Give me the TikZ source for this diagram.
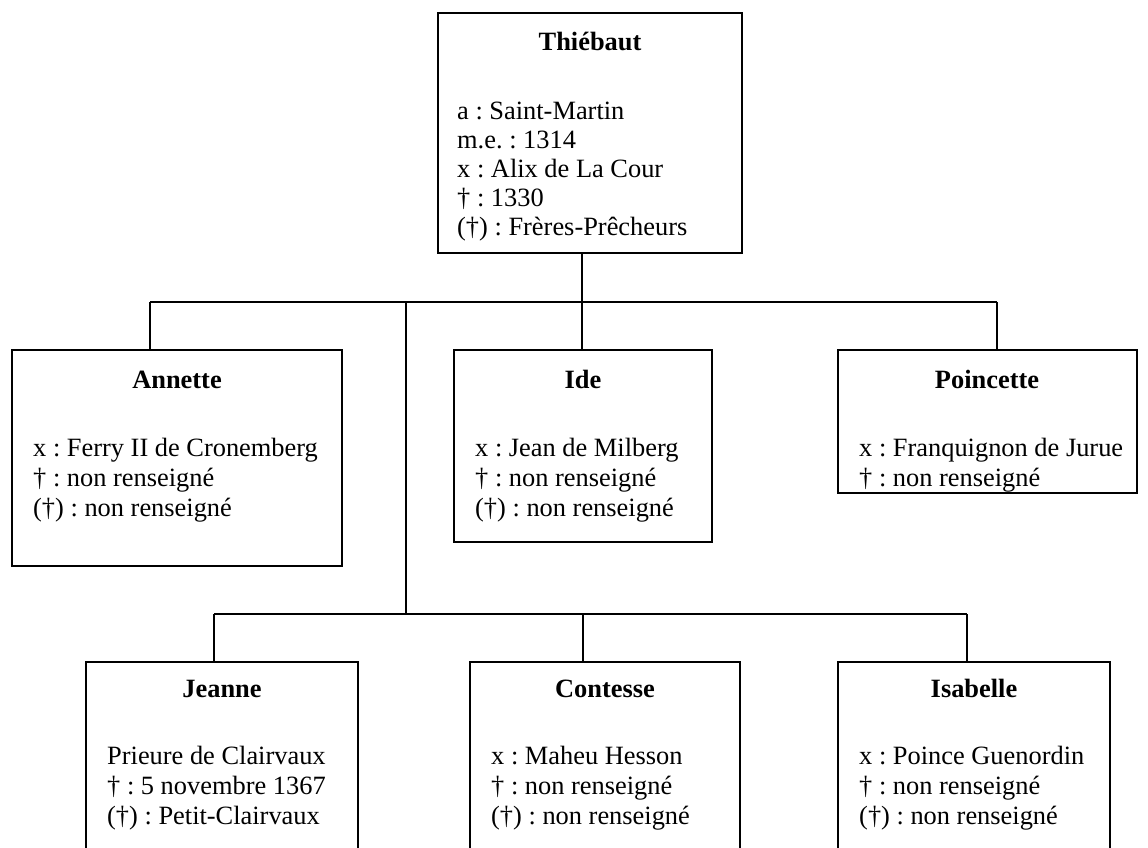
\documentclass[tikz,border=0pt]{standalone}
\usepackage{fontspec}
\setmainfont{Liberation Serif}
\frenchspacing
\begin{document}
\begin{tikzpicture}[x=1pt,y=-1pt,
  box/.style={draw,line width=1.5pt,inner sep=0pt,outer sep=0pt,anchor=north west},
  ttl/.style={font=\fontsize{26.4}{30}\selectfont\bfseries,anchor=base,inner sep=0pt},
  txt/.style={font=\fontsize{26.4}{30}\selectfont,anchor=base west,inner sep=0pt},
  link/.style={line width=1.5pt}]
\useasboundingbox (0,0) rectangle (1148,847);
\clip (0,0) rectangle (1148,847);
% boxes
\node[box,minimum width=304pt,minimum height=240pt] (T) at (438,13) {};
\node[box,minimum width=330pt,minimum height=216pt] (A) at (12,350) {};
\node[box,minimum width=258pt,minimum height=192pt] (I) at (454,350) {};
\node[box,minimum width=299pt,minimum height=143pt] (P) at (838,350) {};
\node[box,minimum width=272pt,minimum height=230pt] (J) at (86,662) {};
\node[box,minimum width=270pt,minimum height=230pt] (C) at (470,662) {};
\node[box,minimum width=272pt,minimum height=230pt] (S) at (838,662) {};
% Thiebaut
\node[ttl] (Tt) at (590,50) {Thiébaut};
\node[txt] (T1) at (457,119) {a : Saint-Martin};
\node[txt] (T2) at (457,148) {m.e. : 1314};
\node[txt] (T3) at (457,177) {x : Alix de La Cour};
\node[txt] (T4) at (457,206) {† : 1330};
\node[txt] (T5) at (457,235) {(†) : Frères-Prêcheurs};
% Annette
\node[ttl] (At) at (177,388) {Annette};
\node[txt] (A1) at (33,456) {x : Ferry II de Cronemberg};
\node[txt] (A2) at (33,486) {† : non renseigné};
\node[txt] (A3) at (33,516) {(†) : non renseigné};
% Ide
\node[ttl] (It) at (583,388) {Ide};
\node[txt] (I1) at (475,456) {x : Jean de Milberg};
\node[txt] (I2) at (475,486) {† : non renseigné};
\node[txt] (I3) at (475,516) {(†) : non renseigné};
% Poincette (text clipped by its box)
\begin{scope}
\clip (838,350) rectangle (1137,493);
\node[ttl] (Pt) at (987,388) {Poincette};
\node[txt] (P1) at (859,456) {x : Franquignon de Jurue};
\node[txt] (P2) at (859,486) {† : non renseigné};
\end{scope}
% Jeanne
\node[ttl] (Jt) at (222,697) {Jeanne};
\node[txt] (J1) at (107,764) {Prieure de Clairvaux};
\node[txt] (J2) at (107,794) {† : 5 novembre 1367};
\node[txt] (J3) at (107,824) {(†) : Petit-Clairvaux};
% Contesse
\node[ttl] (Ct) at (605,697) {Contesse};
\node[txt] (C1) at (491,764) {x : Maheu Hesson};
\node[txt] (C2) at (491,794) {† : non renseigné};
\node[txt] (C3) at (491,824) {(†) : non renseigné};
% Isabelle
\node[ttl] (St) at (974,697) {Isabelle};
\node[txt] (S1) at (859,764) {x : Poince Guenordin};
\node[txt] (S2) at (859,794) {† : non renseigné};
\node[txt] (S3) at (859,824) {(†) : non renseigné};
% connectors
\coordinate (hl) at (150,302);
\coordinate (hm) at (406,302);
\coordinate (hc) at (582,302);
\coordinate (hr) at (997,302);
\coordinate (gl) at (214,614);
\coordinate (gm) at (406,614);
\coordinate (gc) at (583,614);
\coordinate (gr) at (967,614);
\draw[link] (T.south -| hc) -- (hc);
\draw[link] (hl) -- (hr);
\draw[link] (hl) -- (A.north -| hl);
\draw[link] (hc) -- (I.north -| hc);
\draw[link] (hr) -- (P.north -| hr);
\draw[link] (hm) -- (gm);
\draw[link] (gl) -- (gr);
\draw[link] (gl) -- (J.north -| gl);
\draw[link] (gc) -- (C.north -| gc);
\draw[link] (gr) -- (S.north -| gr);
\end{tikzpicture}
\end{document}
